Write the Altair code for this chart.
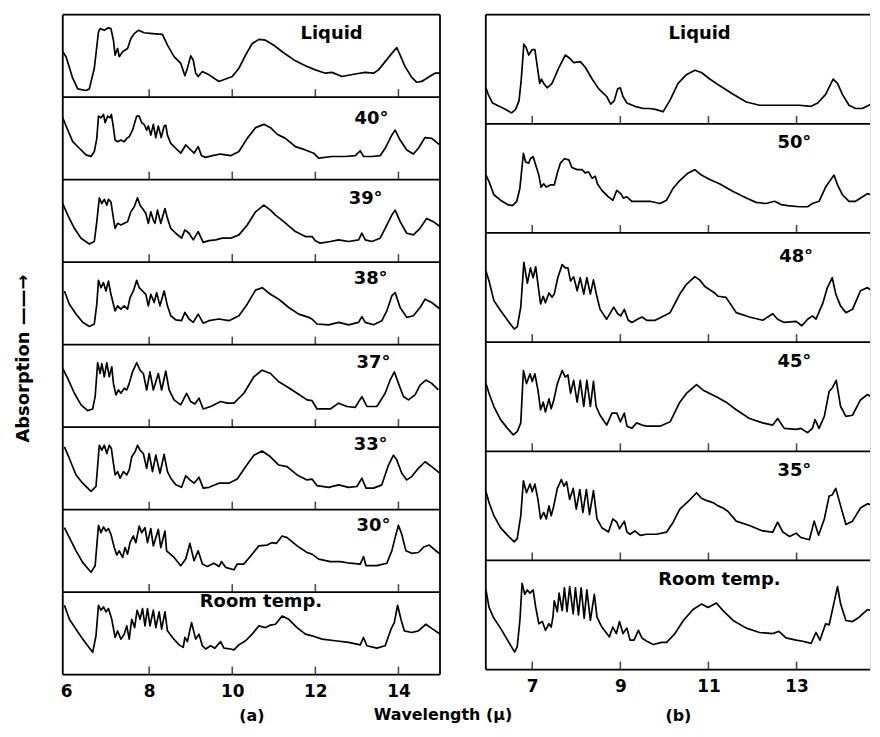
import altair as alt
import pandas as pd

FONT = "DejaVu Sans"

# ---------------- Panel (a): [wavelength (µ), absorption (% of strip height)] ----------------
a_liquid = [[5.92,55],[6.0,49],[6.16,23],[6.28,10],[6.48,8],[6.56,10],[6.68,35],[6.78,79],[6.82,83],[6.92,81],[7.02,84],[7.08,83],[7.14,69],[7.18,51],[7.24,59],[7.28,49],[7.36,55],[7.48,59],[7.56,71],[7.64,77],[7.74,81],[7.88,78],[8.08,77],[8.32,76],[8.44,63],[8.6,49],[8.76,41],[8.86,26],[8.92,35],[9.0,50],[9.06,45],[9.12,29],[9.18,25],[9.28,31],[9.44,27],[9.68,19],[9.84,22],[10.0,25],[10.16,35],[10.32,51],[10.48,65],[10.64,70],[10.8,69],[11.0,63],[11.2,55],[11.52,44],[11.76,38],[12.0,33],[12.24,29],[12.4,30],[12.64,25],[12.96,28],[13.2,30],[13.4,29],[13.52,33],[13.68,43],[13.84,53],[13.96,60],[14.04,51],[14.16,37],[14.32,24],[14.44,18],[14.56,19],[14.72,24],[14.88,29],[15.0,29]]
a_40 = [[5.92,75],[6.0,65],[6.16,46],[6.32,38],[6.48,30],[6.6,28],[6.68,34],[6.74,50],[6.78,77],[6.84,75],[6.9,79],[6.94,69],[7.0,77],[7.06,75],[7.09,79],[7.14,63],[7.18,48],[7.24,46],[7.32,48],[7.4,46],[7.46,50],[7.52,52],[7.6,60],[7.7,77],[7.76,77],[7.82,69],[7.88,67],[7.94,60],[7.98,65],[8.04,54],[8.1,67],[8.16,51],[8.22,65],[8.29,51],[8.36,65],[8.4,66],[8.44,54],[8.52,44],[8.64,38],[8.76,32],[8.88,42],[8.96,38],[9.08,32],[9.18,40],[9.26,29],[9.36,27],[9.52,29],[9.72,31],[9.96,29],[10.16,34],[10.36,50],[10.56,63],[10.76,67],[10.92,63],[11.08,55],[11.28,50],[11.52,40],[11.76,36],[11.96,32],[12.08,26],[12.4,28],[12.72,28],[12.96,29],[13.08,35],[13.16,28],[13.36,28],[13.56,29],[13.68,38],[13.84,54],[13.92,60],[14.04,48],[14.2,36],[14.36,31],[14.48,38],[14.64,51],[14.8,50],[15.0,42]]
a_39 = [[5.92,71],[6.04,57],[6.2,41],[6.36,29],[6.56,22],[6.68,25],[6.74,49],[6.8,78],[6.86,71],[6.92,76],[6.98,69],[7.02,76],[7.08,73],[7.14,53],[7.18,41],[7.24,47],[7.32,45],[7.4,47],[7.48,49],[7.56,61],[7.64,67],[7.72,78],[7.78,69],[7.84,65],[7.92,59],[7.98,47],[8.04,61],[8.1,51],[8.14,47],[8.2,63],[8.28,47],[8.38,65],[8.44,53],[8.52,41],[8.64,35],[8.78,29],[8.86,39],[8.96,35],[9.06,27],[9.18,37],[9.3,24],[9.44,26],[9.6,27],[9.76,29],[9.96,29],[10.16,33],[10.36,45],[10.56,61],[10.76,69],[10.92,63],[11.04,57],[11.24,49],[11.52,37],[11.76,31],[11.92,31],[12.0,26],[12.12,23],[12.36,25],[12.56,27],[12.8,25],[13.04,27],[13.12,35],[13.2,27],[13.36,25],[13.56,29],[13.68,41],[13.84,57],[13.92,63],[14.04,49],[14.2,35],[14.36,33],[14.52,41],[14.68,53],[14.84,49],[15.0,43]]
a_38 = [[5.96,65],[6.08,49],[6.24,37],[6.4,27],[6.56,22],[6.68,25],[6.74,49],[6.78,78],[6.84,69],[6.9,75],[6.96,65],[7.02,77],[7.08,61],[7.14,49],[7.18,41],[7.24,47],[7.32,43],[7.4,47],[7.48,43],[7.54,57],[7.62,65],[7.7,78],[7.76,69],[7.84,65],[7.92,61],[7.98,47],[8.04,61],[8.12,51],[8.18,63],[8.26,47],[8.36,65],[8.44,47],[8.52,35],[8.64,30],[8.78,29],[8.86,39],[8.96,31],[9.06,27],[9.18,37],[9.3,26],[9.44,29],[9.68,31],[9.92,29],[10.16,35],[10.36,49],[10.56,66],[10.72,69],[10.92,61],[11.12,55],[11.36,45],[11.6,37],[11.84,33],[11.92,31],[12.04,25],[12.32,24],[12.56,27],[12.8,24],[13.04,27],[13.12,34],[13.2,27],[13.4,24],[13.6,29],[13.72,41],[13.84,59],[13.92,63],[14.04,45],[14.2,33],[14.36,35],[14.52,45],[14.64,55],[14.8,51],[15.0,43]]
a_37 = [[5.92,71],[6.04,59],[6.2,41],[6.36,27],[6.52,20],[6.64,22],[6.7,37],[6.76,78],[6.82,65],[6.86,77],[6.92,61],[6.98,78],[7.04,61],[7.1,73],[7.14,53],[7.2,39],[7.26,45],[7.32,41],[7.4,47],[7.46,45],[7.52,53],[7.6,67],[7.7,78],[7.78,69],[7.86,65],[7.94,45],[8.02,67],[8.1,45],[8.22,65],[8.3,45],[8.4,68],[8.48,45],[8.6,33],[8.76,27],[8.9,41],[9.0,31],[9.1,28],[9.2,35],[9.3,22],[9.48,25],[9.72,31],[9.88,29],[10.04,29],[10.28,41],[10.52,61],[10.72,69],[10.92,65],[11.12,55],[11.32,49],[11.56,41],[11.8,33],[11.92,32],[12.04,22],[12.36,22],[12.56,29],[12.76,25],[12.96,24],[13.12,37],[13.24,25],[13.48,25],[13.68,41],[13.8,57],[13.9,67],[14.0,53],[14.12,37],[14.24,33],[14.4,39],[14.52,51],[14.66,57],[14.8,53],[14.96,45]]
a_33 = [[5.96,76],[6.08,62],[6.24,42],[6.4,32],[6.6,22],[6.72,28],[6.8,78],[6.86,72],[6.92,78],[6.98,68],[7.04,78],[7.09,74],[7.14,56],[7.18,42],[7.24,46],[7.3,38],[7.38,46],[7.46,42],[7.52,48],[7.58,64],[7.66,70],[7.72,78],[7.78,72],[7.86,68],[7.94,50],[8.0,68],[8.08,46],[8.16,66],[8.26,44],[8.36,67],[8.44,46],[8.52,38],[8.64,30],[8.78,27],[8.88,41],[8.98,36],[9.08,32],[9.2,39],[9.3,26],[9.44,27],[9.68,32],[9.92,32],[10.12,37],[10.32,52],[10.52,66],[10.72,71],[10.92,64],[11.12,54],[11.32,52],[11.56,42],[11.8,36],[11.92,37],[12.04,29],[12.32,27],[12.56,30],[12.8,27],[13.0,28],[13.12,38],[13.22,26],[13.4,26],[13.6,30],[13.76,54],[13.88,66],[13.96,60],[14.08,44],[14.2,36],[14.32,40],[14.48,50],[14.64,58],[14.8,52],[15.0,44]]
a_30 = [[5.96,78],[6.08,66],[6.24,50],[6.4,36],[6.6,24],[6.7,32],[6.78,81],[6.84,72],[6.9,79],[6.96,74],[7.02,77],[7.08,70],[7.16,54],[7.22,45],[7.28,50],[7.36,42],[7.42,54],[7.48,46],[7.54,60],[7.62,68],[7.68,60],[7.76,80],[7.82,72],[7.9,78],[7.96,60],[8.04,77],[8.1,56],[8.22,76],[8.28,54],[8.38,74],[8.42,50],[8.6,42],[8.76,32],[8.88,40],[8.98,59],[9.08,38],[9.18,50],[9.28,34],[9.4,31],[9.56,35],[9.68,31],[9.74,37],[9.84,30],[10.04,27],[10.12,34],[10.28,34],[10.48,46],[10.64,56],[10.84,57],[10.96,60],[11.06,59],[11.2,68],[11.32,66],[11.56,56],[11.8,48],[11.92,46],[12.08,40],[12.36,37],[12.6,37],[12.84,35],[13.08,34],[13.16,43],[13.22,32],[13.48,32],[13.72,35],[13.84,50],[13.92,66],[14.0,81],[14.08,70],[14.18,50],[14.32,47],[14.48,48],[14.62,55],[14.74,57],[14.88,51],[15.0,46]]
a_room = [[5.96,84],[6.08,67],[6.24,55],[6.4,43],[6.52,35],[6.64,27],[6.72,47],[6.78,84],[6.84,78],[6.9,82],[6.96,76],[7.02,80],[7.1,67],[7.18,45],[7.24,53],[7.32,43],[7.4,49],[7.46,59],[7.52,43],[7.58,67],[7.65,57],[7.71,78],[7.78,67],[7.84,80],[7.9,59],[7.96,80],[8.02,59],[8.1,78],[8.16,57],[8.24,76],[8.3,55],[8.38,76],[8.44,53],[8.56,45],[8.72,36],[8.82,33],[8.86,45],[8.92,40],[9.02,63],[9.12,43],[9.2,49],[9.28,35],[9.36,31],[9.48,35],[9.58,32],[9.72,40],[9.8,32],[9.96,31],[10.04,30],[10.16,36],[10.32,41],[10.48,49],[10.64,59],[10.8,57],[10.92,60],[11.04,61],[11.2,71],[11.36,67],[11.56,57],[11.76,49],[11.92,47],[12.16,43],[12.48,41],[12.8,39],[13.08,36],[13.16,45],[13.24,35],[13.48,32],[13.68,35],[13.82,55],[13.9,63],[13.98,84],[14.06,67],[14.14,53],[14.32,51],[14.48,53],[14.66,61],[14.8,56],[15.0,49]]

# ---------------- Panel (b) ----------------
b_liquid = [[5.95,33],[6.0,27],[6.1,19],[6.25,16],[6.4,13],[6.53,10],[6.62,13],[6.7,21],[6.75,40],[6.81,73],[6.86,70],[6.92,63],[7.0,68],[7.06,68],[7.11,54],[7.17,37],[7.21,41],[7.26,37],[7.34,33],[7.45,37],[7.6,51],[7.75,63],[7.85,60],[7.94,56],[8.09,57],[8.2,52],[8.36,41],[8.51,32],[8.69,25],[8.78,18],[8.86,21],[8.94,32],[9.0,33],[9.06,25],[9.15,19],[9.33,16],[9.52,14],[9.67,14],[9.82,13],[9.97,11],[10.12,21],[10.31,37],[10.5,45],[10.69,49],[10.84,47],[11.03,41],[11.25,35],[11.56,27],[11.86,20],[12.16,17],[12.46,17],[12.76,17],[13.06,17],[13.33,16],[13.48,19],[13.66,27],[13.83,41],[13.93,37],[14.04,27],[14.19,17],[14.34,14],[14.49,14],[14.64,17],[14.87,21]]
b_50 = [[5.95,53],[6.02,47],[6.13,35],[6.28,30],[6.44,26],[6.55,25],[6.65,29],[6.72,41],[6.8,73],[6.85,65],[6.92,64],[6.96,68],[7.02,70],[7.08,62],[7.15,53],[7.2,42],[7.26,45],[7.32,42],[7.41,44],[7.5,44],[7.57,55],[7.64,64],[7.73,68],[7.83,67],[7.9,60],[8.02,58],[8.13,58],[8.2,55],[8.28,56],[8.36,50],[8.43,52],[8.48,45],[8.58,39],[8.73,33],[8.83,30],[8.92,39],[9.01,36],[9.07,32],[9.15,33],[9.26,29],[9.45,29],[9.67,29],[9.9,27],[10.05,30],[10.2,41],[10.35,48],[10.54,55],[10.69,58],[10.84,53],[11.03,49],[11.25,45],[11.56,38],[11.86,32],[12.08,28],[12.31,27],[12.5,29],[12.65,26],[12.8,25],[13.06,24],[13.25,24],[13.36,27],[13.51,29],[13.66,42],[13.85,53],[13.93,44],[14.04,35],[14.19,29],[14.34,29],[14.49,33],[14.61,36],[14.76,34],[14.87,32]]
b_48 = [[5.95,65],[6.02,56],[6.13,38],[6.28,29],[6.44,20],[6.59,12],[6.66,14],[6.74,32],[6.81,73],[6.89,54],[6.96,68],[7.02,59],[7.08,69],[7.15,47],[7.19,35],[7.25,42],[7.3,36],[7.38,45],[7.45,41],[7.5,44],[7.58,59],[7.68,71],[7.75,68],[7.81,68],[7.87,56],[7.94,60],[8.02,47],[8.09,59],[8.17,44],[8.24,59],[8.32,44],[8.39,57],[8.45,45],[8.54,30],[8.69,21],[8.85,32],[8.94,26],[9.01,24],[9.09,30],[9.18,20],[9.26,18],[9.39,21],[9.49,23],[9.6,20],[9.79,20],[9.94,23],[10.13,27],[10.35,44],[10.5,53],[10.69,60],[10.8,57],[10.92,51],[11.14,45],[11.22,42],[11.4,41],[11.63,27],[11.93,23],[12.23,20],[12.46,26],[12.57,21],[12.72,18],[12.99,19],[13.12,15],[13.25,21],[13.36,24],[13.44,21],[13.59,35],[13.7,50],[13.81,59],[13.89,44],[14.0,33],[14.12,27],[14.27,30],[14.45,47],[14.61,50],[14.76,45],[14.87,41]]
b_45 = [[5.95,62],[6.02,53],[6.13,41],[6.28,29],[6.44,21],[6.57,15],[6.66,18],[6.74,26],[6.8,74],[6.87,62],[6.95,71],[7.0,64],[7.06,71],[7.13,56],[7.19,38],[7.25,45],[7.3,36],[7.38,48],[7.43,39],[7.49,47],[7.57,62],[7.68,74],[7.75,68],[7.81,70],[7.87,53],[7.94,65],[8.02,45],[8.09,65],[8.17,41],[8.24,65],[8.32,41],[8.39,64],[8.45,41],[8.54,33],[8.69,24],[8.81,35],[8.92,35],[9.0,27],[9.09,35],[9.15,23],[9.26,21],[9.37,26],[9.49,24],[9.6,23],[9.9,23],[10.13,27],[10.35,45],[10.5,53],[10.73,61],[10.88,56],[11.03,53],[11.18,50],[11.4,45],[11.63,38],[11.93,30],[12.23,26],[12.46,24],[12.57,30],[12.72,21],[12.99,20],[13.1,21],[13.25,17],[13.36,21],[13.42,29],[13.51,21],[13.63,32],[13.74,55],[13.81,58],[13.9,65],[14.0,41],[14.12,32],[14.27,33],[14.45,47],[14.61,52],[14.76,48],[14.87,44]]
b_35 = [[5.95,63],[6.02,53],[6.13,41],[6.28,30],[6.44,23],[6.59,17],[6.66,20],[6.74,41],[6.8,73],[6.87,62],[6.95,70],[7.0,63],[7.06,70],[7.13,56],[7.19,38],[7.26,44],[7.32,38],[7.38,50],[7.43,41],[7.49,50],[7.57,66],[7.66,74],[7.72,68],[7.78,72],[7.85,56],[7.93,66],[8.0,47],[8.08,65],[8.15,44],[8.23,65],[8.3,42],[8.39,64],[8.47,38],[8.58,30],[8.73,26],[8.83,38],[8.92,35],[8.98,29],[9.09,36],[9.15,26],[9.22,24],[9.33,27],[9.45,23],[9.6,24],[9.82,24],[10.05,26],[10.2,35],[10.35,47],[10.54,54],[10.73,62],[10.84,57],[10.95,55],[11.1,53],[11.22,50],[11.33,48],[11.44,45],[11.63,36],[11.93,32],[12.23,27],[12.46,26],[12.57,35],[12.69,26],[12.84,22],[12.99,25],[13.1,21],[13.29,19],[13.4,36],[13.5,23],[13.63,38],[13.74,59],[13.81,60],[13.89,66],[14.0,50],[14.12,33],[14.27,36],[14.45,48],[14.61,52],[14.76,50],[14.87,45]]
b_room = [[5.95,73],[6.02,57],[6.13,47],[6.28,38],[6.44,27],[6.6,16],[6.66,21],[6.72,45],[6.77,79],[6.83,69],[6.89,73],[6.95,70],[7.02,73],[7.08,57],[7.15,42],[7.23,44],[7.3,36],[7.38,42],[7.43,39],[7.47,48],[7.5,63],[7.57,53],[7.61,70],[7.68,54],[7.73,75],[7.79,53],[7.85,76],[7.93,51],[7.98,75],[8.05,50],[8.11,75],[8.18,47],[8.24,73],[8.32,45],[8.41,69],[8.47,48],[8.58,39],[8.75,30],[8.83,39],[8.91,33],[8.98,44],[9.06,33],[9.15,38],[9.22,27],[9.31,27],[9.41,36],[9.49,29],[9.6,26],[9.75,23],[9.94,25],[10.05,25],[10.24,33],[10.43,45],[10.65,55],[10.84,60],[10.99,57],[11.18,61],[11.33,54],[11.56,45],[11.86,38],[12.16,34],[12.46,33],[12.6,35],[12.76,29],[12.99,27],[13.14,26],[13.33,24],[13.44,34],[13.53,27],[13.66,42],[13.74,41],[13.81,54],[13.93,76],[14.0,60],[14.12,45],[14.27,44],[14.42,48],[14.61,55],[14.76,53],[14.87,51]]

a_names = ["Liquid", "40°", "39°", "38°", "37°", "33°", "30°", "Room temp."]
a_spectra = [a_liquid, a_40, a_39, a_38, a_37, a_33, a_30, a_room]
a_label_x = [12.39, 13.35, 13.21, 13.33, 13.40, 13.33, 13.40, 10.69]
a_label_v = [77, 73, 77, 80, 78, 78, 80, 88]
a_ticks = [8, 10, 12, 14]
a_axis_values = [6, 8, 10, 12, 14]
a_domain = [5.92, 15.0]

b_names = ["Liquid", "50°", "48°", "45°", "35°", "Room temp."]
b_spectra = [b_liquid, b_50, b_48, b_45, b_35, b_room]
b_label_x = [10.80, 12.95, 12.99, 12.95, 12.95, 11.25]
b_label_v = [82, 82, 78, 82, 82, 82]
b_ticks = [7, 9, 11, 13]
b_axis_values = [7, 9, 11, 13]
b_domain = [5.946, 14.667]


def panel(names, spectra, label_x, label_v, ticks, axis_values, domain,
          letter, width, height, ytitle, title_pad, right_border):
    n = len(names)
    rows = []
    for k, (name, pts) in enumerate(zip(names, spectra)):
        base = n - 1 - k
        for x, v in pts:
            rows.append({"series": name, "x": x, "y": base + v / 100.0})
    lines = pd.DataFrame(rows)
    bounds = pd.DataFrame({"y": list(range(n + 1))})
    tick_df = pd.DataFrame([{"x": t, "y": float(b)} for b in range(n) for t in ticks])
    labels = pd.DataFrame({
        "text": names,
        "x": label_x,
        "y": [n - 1 - k + label_v[k] / 100.0 for k in range(n)],
    })
    edges = pd.DataFrame({"x": [domain[0], domain[1]] if right_border else [domain[0]]})

    xenc = alt.X("x:Q",
                 scale=alt.Scale(domain=domain, nice=False, zero=False),
                 axis=alt.Axis(values=axis_values, format="d", title=letter,
                               ticks=False, domain=False, grid=False,
                               labelPadding=9, titlePadding=title_pad,
                               labelFont=FONT, labelFontSize=17, labelFontWeight="bold",
                               labelColor="black", titleFont=FONT, titleFontSize=16,
                               titleFontWeight="bold", titleColor="black"))
    if ytitle:
        yaxis = alt.Axis(labels=False, ticks=False, domain=False, grid=False,
                         title=ytitle, titlePadding=30, titleFont=FONT,
                         titleFontSize=18, titleFontWeight="bold", titleColor="black",
                         titleY=345)
    else:
        yaxis = None
    yenc = alt.Y("y:Q", scale=alt.Scale(domain=[0, n], nice=False, zero=False), axis=yaxis)

    line_layer = alt.Chart(lines).mark_line(color="black", strokeWidth=1.7,
                                            strokeJoin="round", clip=True).encode(
        x=xenc, y=yenc, detail="series:N")
    rule_layer = alt.Chart(bounds).mark_rule(color="black", strokeWidth=1.8).encode(y=yenc)
    edge_layer = alt.Chart(edges).mark_rule(color="black", strokeWidth=1.8).encode(x=xenc)
    tick_layer = alt.Chart(tick_df).mark_tick(orient="vertical", size=8, thickness=1.6,
                                              color="black", yOffset=-4).encode(x=xenc, y=yenc)
    text_layer = alt.Chart(labels).mark_text(font=FONT, fontSize=18, fontWeight="bold",
                                             color="black", align="center",
                                             baseline="middle").encode(
        x=xenc, y=yenc, text="text:N")
    return alt.layer(line_layer, rule_layer, edge_layer, tick_layer, text_layer).properties(
        width=width, height=height)


pa = panel(a_names, a_spectra, a_label_x, a_label_v, a_ticks, a_axis_values, a_domain,
           "(a)", 379, 663, "Absorption \u2014\u2014\u2192", 8, True)
pb = panel(b_names, b_spectra, b_label_x, b_label_v, b_ticks, b_axis_values, b_domain,
           "(b)", 386, 658, None, 13, False)

chart = alt.hconcat(pa, pb, spacing=42).properties(
    title=alt.TitleParams("Wavelength (\u03bc)", orient="bottom", anchor="middle",
                          offset=-17, font=FONT, fontSize=16, fontWeight="bold",
                          color="black"),
    padding={"left": 6, "top": 3, "right": 0, "bottom": 0},
).configure_view(strokeWidth=0).configure(background="white")

chart.save("out.html", embed_options={"renderer": "svg", "actions": False})
